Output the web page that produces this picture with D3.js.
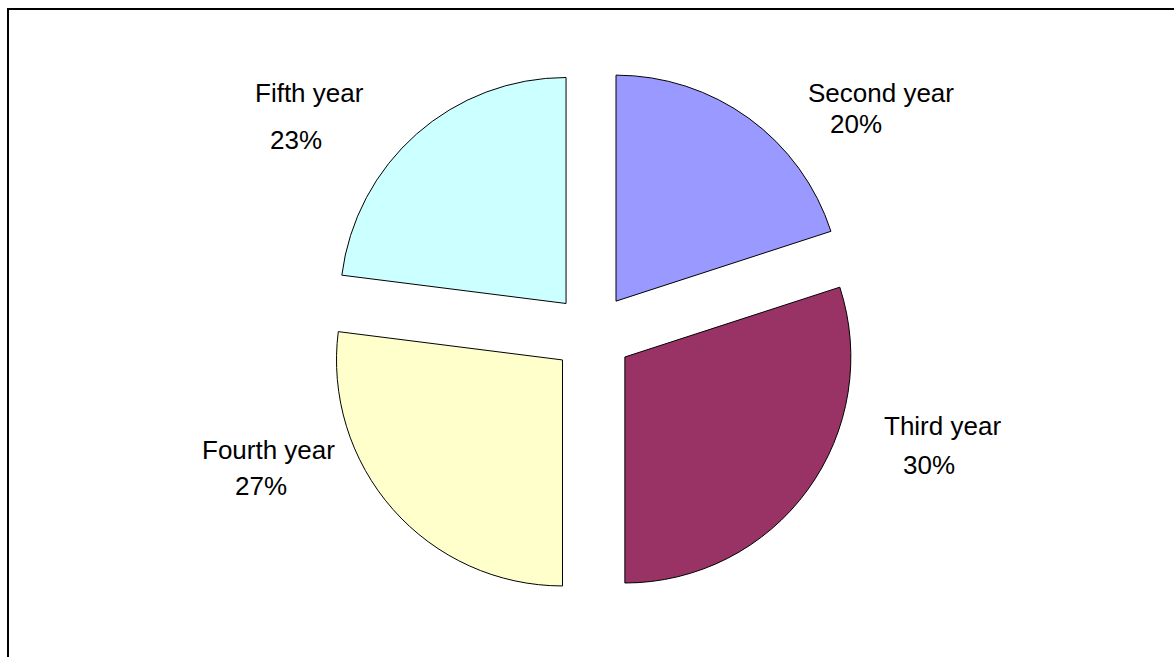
<!DOCTYPE html>
<html><head><meta charset="utf-8">
<script src="https://cdn.jsdelivr.net/npm/d3@7"></script>
<style>body{margin:0;background:#fff}svg{display:block}</style>
</head><body>
<svg id="c" width="1174" height="657"></svg>
<script>
const categories = ["Second year", "Third year", "Fourth year", "Fifth year"];
const values = [20, 30, 27, 23];
const percentLabels = ["20%", "30%", "27%", "23%"];
const colors = ["#9999FF", "#993366", "#FFFFCC", "#CCFFFF"];
// label anchor positions (name line, percent line)
const labelPos = [
  {nx: 808, ny: 102, px: 830, py: 133},
  {nx: 884, ny: 435, px: 903, py: 474},
  {nx: 202, ny: 459, px: 235, py: 495},
  {nx: 255, ny: 102, px: 270, py: 149}
];

const svg = d3.select("#c");
svg.append("rect").attr("x", 8).attr("y", 9).attr("width", 1200).attr("height", 700)
  .attr("fill", "none").attr("stroke", "#000").attr("stroke-width", 2);

const cx = 592.5, cy = 333.5, R = 226, explode = 40;
const pie = d3.pie().sort(null).value(d => d)(values);
const arc = d3.arc().innerRadius(0).outerRadius(R);
const g = svg.append("g").attr("transform", `translate(${cx},${cy})`);
g.selectAll("path").data(pie).join("path")
  .attr("d", arc)
  .attr("fill", (d, i) => colors[i])
  .attr("stroke", "#000").attr("stroke-width", 1)
  .attr("stroke-linejoin", "round")
  .attr("transform", d => {
    const a = (d.startAngle + d.endAngle) / 2;
    return `translate(${explode * Math.sin(a)},${-explode * Math.cos(a)})`;
  });

const lab = svg.append("g").attr("font-family", "Liberation Sans, Arial, sans-serif")
  .attr("font-size", 26).attr("fill", "#000");
categories.forEach((c, i) => {
  const p = labelPos[i];
  lab.append("text").attr("x", p.nx).attr("y", p.ny).text(c);
  lab.append("text").attr("x", p.px).attr("y", p.py).text(percentLabels[i]);
});
</script>
</body></html>
